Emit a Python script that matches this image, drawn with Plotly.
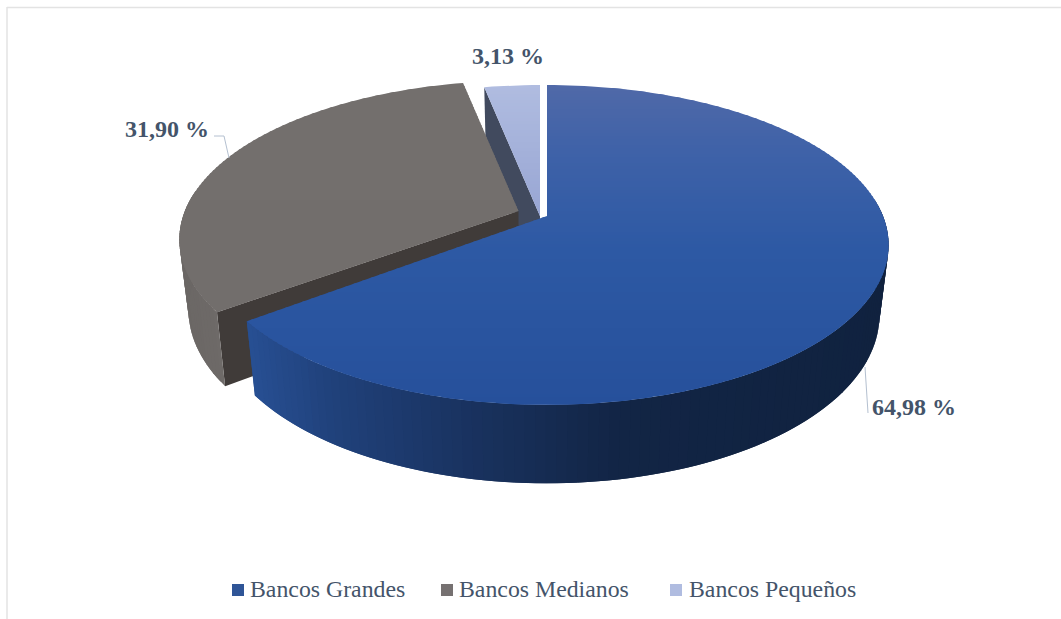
import math
import plotly.graph_objects as go

categories = ["Bancos Grandes", "Bancos Medianos", "Bancos Pequeños"]
values = [64.98, 31.90, 3.13]
swatch_colors = ["#2f5597", "#767171", "#b0bce0"]
text_color = "#44546a"

W, H = 1061, 619
APEX = [(547, 216), (518.5, 211), (540, 216)]
RADIUS = [1.0, 0.993, 1.0]
END_TRIM = [1.2, 0.0, 0.0]
A, B, P = 336.0, 154.7, 0.181
SX, SY, DEPTH = 0.973, 1.05, 69.0

BLUE_TOP = [(85, "#5069a8"), (150, "#3f62a8"), (250, "#2d59a4"), (405, "#26509b")]
BLUE_WALL = [(250, "#274f92"), (330, "#20417b"), (470, "#19325f"), (620, "#122545"), (890, "#10223f")]
GREY_TOP = [(80, "#736f6d"), (320, "#726e6c")]
GREY_WALL = [(180, "#6b6765"), (230, "#6f6b69")]
LIGHT_TOP = [(85, "#b0bce0"), (220, "#97a5d3")]
TOPS = [BLUE_TOP, GREY_TOP, LIGHT_TOP]
WALLS = [BLUE_WALL, GREY_WALL, None]
RADIAL = [None, "#403b39", "#414a5e"]


def hex2rgb(c):
    return tuple(int(c[i:i + 2], 16) for i in (1, 3, 5))


def ramp(stops, t):
    if t <= stops[0][0]:
        return stops[0][1]
    for (a, ca), (b, cb) in zip(stops, stops[1:]):
        if t <= b:
            f = (t - a) / (b - a)
            x, y = hex2rgb(ca), hex2rgb(cb)
            return "#%02x%02x%02x" % tuple(round(p + (q - p) * f) for p, q in zip(x, y))
    return stops[-1][1]


def project(theta, apex, r=1.0):
    """theta: degrees clockwise from 12 o'clock, on the pie's plane."""
    x = r * math.sin(math.radians(theta))
    y = r * math.cos(math.radians(theta))
    k = 1 / (1 + P * y)
    return apex[0] + A * x * k, apex[1] - B * y * k


def lower(pt, apex):
    return (apex[0] + (pt[0] - apex[0]) * SX, apex[1] + (pt[1] - apex[1]) * SY + DEPTH)


def clip(poly, vmin, vmax):
    def half(points, inside, cross):
        out = []
        for i, p in enumerate(points):
            q = points[(i + 1) % len(points)]
            if inside(p):
                out.append(p)
            if inside(p) != inside(q):
                f = (cross - p[1]) / (q[1] - p[1])
                out.append((p[0] + (q[0] - p[0]) * f, cross))
        return out
    poly = half(poly, lambda p: p[1] >= vmin, vmin)
    if poly:
        poly = half(poly, lambda p: p[1] <= vmax, vmax)
    return poly


fig = go.Figure()


def fill(poly, color):
    xs = [p[0] for p in poly] + [poly[0][0]]
    ys = [p[1] for p in poly] + [poly[0][1]]
    fig.add_trace(go.Scatter(x=xs, y=ys, mode="lines", fill="toself", fillcolor=color,
                             line=dict(width=0), hoverinfo="skip", showlegend=False))


total = sum(values)
spans = []
angle = 0.0
for v in values:
    spans.append((angle, angle + v / total * 360))
    angle += v / total * 360

for idx in (2, 1, 0):
    start, end = spans[idx]
    end -= END_TRIM[idx]
    apex = APEX[idx]
    n = max(6, int((end - start) / 1.5))
    thetas = [start + (end - start) * i / n for i in range(n + 1)]
    arc = [project(t, apex, RADIUS[idx]) for t in thetas]
    low = [lower(p, apex) for p in arc]
    low_apex = lower(apex, apex)
    if RADIAL[idx]:
        fill([apex, arc[0], low[0], low_apex], RADIAL[idx])
    if WALLS[idx]:
        for i in range(n):
            if math.cos(math.radians((thetas[i] + thetas[i + 1]) / 2)) < 0.1:
                u = (arc[i][0] + arc[i + 1][0]) / 2
                j = min(i + 2, n)  # reach under the next strip so no seam shows
                fill([arc[i], arc[i + 1], arc[j], low[j], low[i + 1], low[i]], ramp(WALLS[idx], u))
    outline = [apex] + arc
    vs = [p[1] for p in outline]
    v = min(vs)
    step = 3
    while v < max(vs):
        band = clip(outline, v, v + step + 1.5)  # overlaps the next band
        if len(band) >= 3:
            fill(band, ramp(TOPS[idx], v + step / 2))
        v += step

# frame of the chart area
FRAME = dict(type="line", line=dict(color="#e3e3e3", width=1.5), layer="below")
fig.add_shape(x0=7, x1=W, y0=7.5, y1=7.5, **FRAME)
fig.add_shape(x0=7, x1=7, y0=7, y1=H, **FRAME)

# leader lines
LEADER = "#b4c0d0"
fig.add_trace(go.Scatter(x=[214, 224, 229], y=[136, 136, 158], mode="lines",
                         line=dict(color=LEADER, width=1), hoverinfo="skip", showlegend=False))
fig.add_trace(go.Scatter(x=[865, 868], y=[367, 413], mode="lines",
                         line=dict(color=LEADER, width=1), hoverinfo="skip", showlegend=False))

# value labels
label_pos = [(914, 407), (167, 129), (508, 56)]
for val, (x, y) in zip(values, label_pos):
    fig.add_annotation(x=x, y=y, text="<b>" + f"{val:.2f}".replace(".", ",") + " %</b>", showarrow=False,
                       font=dict(family="Liberation Serif", size=24, color=text_color),
                       xanchor="center", yanchor="middle")

# legend
swatch_x = [238, 447, 676]
legend_text_x = [248, 457, 687]
legend_y = 590
for name, color, x, tx in zip(categories, swatch_colors, swatch_x, legend_text_x):
    fig.add_trace(go.Scatter(x=[x], y=[legend_y], mode="markers",
                             marker=dict(symbol="square", size=12, color=color),
                             name=name, hoverinfo="name", showlegend=False))
    fig.add_annotation(x=tx, y=legend_y - 1, text=name, showarrow=False, xanchor="left", yanchor="middle",
                       font=dict(family="Liberation Serif", size=23.8, color=text_color))

fig.update_layout(
    width=W, height=H, margin=dict(l=0, r=0, t=0, b=0),
    paper_bgcolor="white", plot_bgcolor="white", showlegend=False,
    xaxis=dict(range=[0, W], visible=False, fixedrange=True),
    yaxis=dict(range=[H, 0], visible=False, fixedrange=True),
)
fig.write_html("out.html", config={"displayModeBar": False},
               post_script="document.body.style.margin='0';document.body.style.overflow='hidden';")
